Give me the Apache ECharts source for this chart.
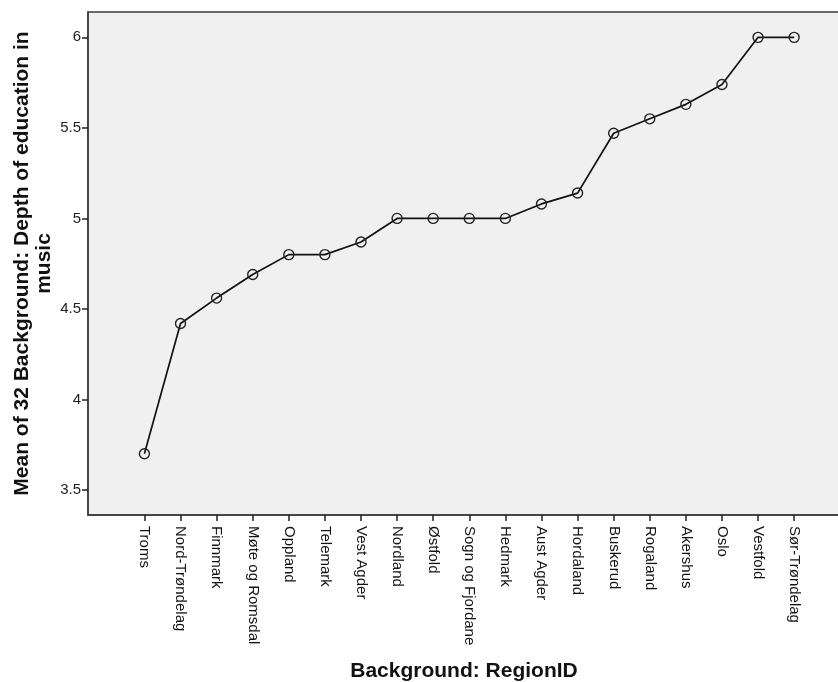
<!DOCTYPE html>
<html>
<head>
<meta charset="utf-8">
<script src="https://cdn.jsdelivr.net/npm/echarts@6/dist/echarts.min.js"></script>
<style>
  html, body { margin: 0; padding: 0; background: #fff; }
  #chart { width: 838px; height: 682px; }
</style>
</head>
<body>
<div id="chart"></div>
<script>
var regions = ['Troms', 'Nord-Trøndelag', 'Finnmark', 'Møte og Romsdal', 'Oppland', 'Telemark',
    'Vest Agder', 'Nordland', 'Østfold', 'Sogn og Fjordane', 'Hedmark', 'Aust Agder',
    'Hordaland', 'Buskerud', 'Rogaland', 'Akershus', 'Oslo', 'Vestfold', 'Sør-Trøndelag'];
var meanDepth = [3.70, 4.42, 4.56, 4.69, 4.80, 4.80, 4.87, 5.00, 5.00, 5.00, 5.00, 5.08,
    5.14, 5.47, 5.55, 5.63, 5.74, 6.00, 6.00];
var yTicks = [3.5, 4, 4.5, 5, 5.5, 6];

var dom = document.getElementById('chart');
var myChart = echarts.init(dom);

var points = [];
var idx = [];
for (var i = 0; i < regions.length; i++) {
    points.push([i, meanDepth[i]]);
    idx.push(i);
}

var textColor = '#111';
var fontFamily = '"Liberation Sans", Arial, sans-serif';

var option = {
    animation: false,
    backgroundColor: '#fff',
    grid: {
        left: 88,
        top: 12,
        right: -2,
        bottom: 167,
        outerBoundsMode: 'none',
        containLabel: false,
        show: true,
        backgroundColor: '#f0f0f0',
        borderColor: '#3a3a3a',
        borderWidth: 1.5
    },
    xAxis: {
        type: 'value',
        min: -1.563,
        max: 19.27,
        name: 'Background: RegionID',
        nameLocation: 'middle',
        nameGap: 146,
        nameMoveOverlap: false,
        nameTextStyle: { fontFamily: fontFamily, fontSize: 21, fontWeight: 'bold', color: textColor },
        axisLine: { show: true, onZero: false, lineStyle: { color: '#3a3a3a', width: 1.5 } },
        axisTick: { show: true, customValues: idx, length: 6, lineStyle: { color: '#222', width: 1.5 } },
        axisLabel: {
            customValues: idx,
            rotate: -90,
            margin: 11,
            fontFamily: fontFamily,
            fontSize: 15,
            color: textColor,
            formatter: function (v) { return regions[v]; }
        },
        splitLine: { show: false }
    },
    yAxis: {
        type: 'value',
        min: 3.362,
        max: 6.14,
        name: 'Mean of 32 Background: Depth of education in\nmusic',
        nameLocation: 'middle',
        nameGap: 33,
        nameMoveOverlap: false,
        nameTextStyle: { fontFamily: fontFamily, fontSize: 21, fontWeight: 'bold', color: textColor, lineHeight: 22, align: 'center' },
        axisLine: { show: true, onZero: false, lineStyle: { color: '#3a3a3a', width: 1.5 } },
        axisTick: { show: true, customValues: yTicks, length: 6, lineStyle: { color: '#222', width: 1.5 } },
        axisLabel: {
            customValues: yTicks,
            margin: 7,
            fontFamily: fontFamily,
            fontSize: 15,
            color: '#222'
        },
        splitLine: { show: false }
    },
    series: [{
        type: 'line',
        data: points,
        symbol: 'circle',
        symbolSize: 10,
        lineStyle: { color: '#111', width: 1.7 },
        itemStyle: { color: 'rgba(0,0,0,0)', borderColor: '#222', borderWidth: 1.4 },
        emphasis: { disabled: true }
    }]
};

if (option && typeof option === 'object') {
    myChart.setOption(option, true);
}
</script>
</body>
</html>
